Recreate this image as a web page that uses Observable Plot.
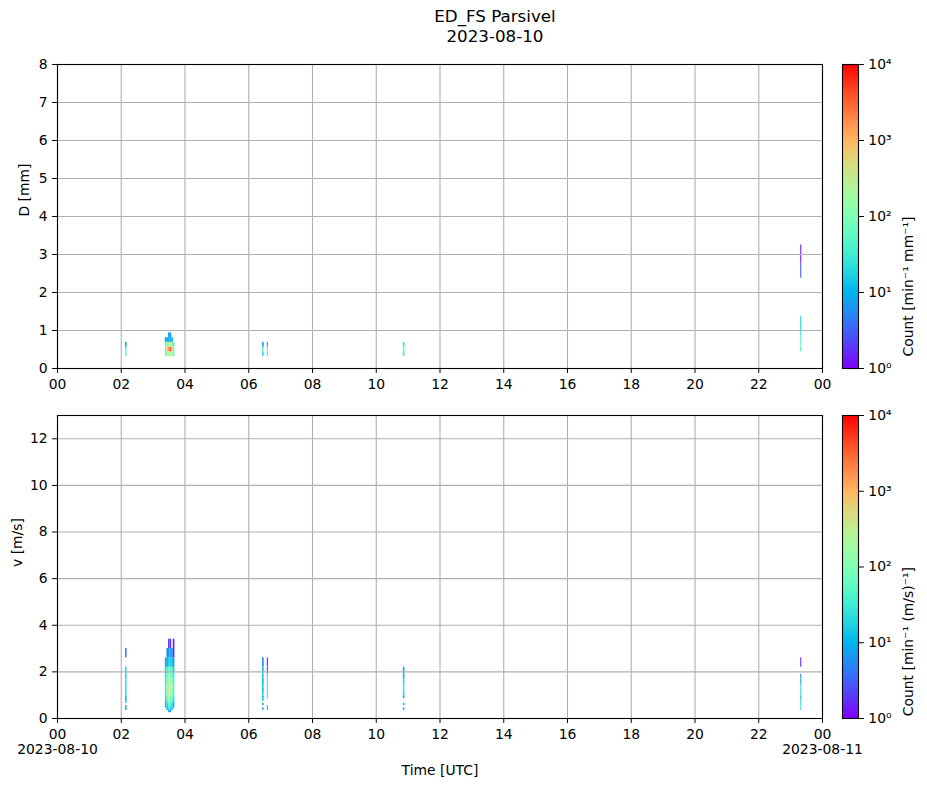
<!DOCTYPE html>
<html>
<head>
<meta charset="utf-8">
<script src="https://cdn.jsdelivr.net/npm/d3@7"></script>
<script src="https://cdn.jsdelivr.net/npm/@observablehq/plot@0.6"></script>
<style>
  body { margin: 0; background: white; }
  #wrap { position: relative; width: 927px; height: 788px; font-family: "DejaVu Sans", sans-serif; }
  #wrap > * { position: absolute; }
  #title { left: 395px; width: 200px; top: 6px; text-align: center; font-size: 16.7px; line-height: 20px; }
</style>
</head>
<body>
<div id="wrap">
  <div id="title">ED_FS Parsivel<br>2023-08-10</div>
</div>
<script>
// ---- Data ----
const timeTicks = [0, 120, 240, 360, 480, 600, 720, 840, 960, 1080, 1200, 1320, 1440];
const hourLabels = ["00","02","04","06","08","10","12","14","16","18","20","22","00"];
const dateLabels = ["2023-08-10", "2023-08-11"];
const dateLabelMinutes = [0, 1440];
const dTicks = [0,1,2,3,4,5,6,7,8];
const vTicks = [0,2,4,6,8,10,12];
const cbTicks = [1, 10, 100, 1000, 10000];
const supDigits = ["\u2070","\u00b9","\u00b2","\u00b3","\u2074"];

// Parsivel class centres (cells span centre[i] .. centre[i+1])
const dCenters = [0.062,0.187,0.312,0.437,0.562,0.687,0.812,0.937,1.062,1.187,1.375,1.625,1.875,2.125,2.375,2.75,3.25,3.75,4.25,4.75,5.5,6.5,7.5,8.5,9.5];
const vCenters = [0.05,0.15,0.25,0.35,0.45,0.55,0.65,0.75,0.85,0.95,1.1,1.3,1.5,1.7,1.9,2.2,2.6,3.0,3.4,3.8,4.4,5.2,6.0,6.8,7.6,8.8,10.4,12.0,13.6];

// time columns (minutes after 00 UTC) and their length in minutes
const colStart = [128, 203, 206, 209, 212, 215, 218, 386, 395, 651, 1399];
const colSpan  = [3,   3,   3,   3,   3,   3,   3,   3,   2,   3,   2];

// counts per diameter class
const dCounts = [
  [0,0,60,50,8],
  [0,0,60,100,40,6],
  [0,0,150,800,150,8],
  [0,0,250,1500,300,10,6],
  [0,0,250,4000,250,10,6],
  [0,0,150,800,150,8],
  [0,0,60,100,40],
  [0,0,20,50,6],
  [0,0,30,40,5],
  [0,0,30,50,20],
  [0,0,0,30,60,40,30,20,15,15,0,0,0,0,3,1.3]
];
// counts per velocity class
const vCounts = [
  [0,0,0,10,10,0,15,10,10,20,20,25,25,20,18,0,5],
  [0,0,0,0,8,10,12,15,20,25,30,30,25,20,15,6],
  [0,0,0,10,15,20,30,40,60,80,100,100,80,60,40,10,5],
  [0,0,10,20,30,50,80,120,200,250,300,300,200,120,60,15,6,2],
  [0,0,8,15,25,40,60,100,150,200,300,250,200,100,60,15,8,2],
  [0,0,0,10,15,20,30,40,60,80,100,120,100,60,40,12,5],
  [0,0,0,0,8,10,15,20,25,30,40,40,30,25,15,6,1.5,1.2],
  [0,0,0,8,0,10,0,12,10,20,12,15,10,15,12,5],
  [0,0,0,8,8,0,0,0,25,25,25,25,25,25,2,1.5],
  [0,0,0,8,0,10,0,0,10,15,25,25,20,10,10],
  [0,0,0,20,25,20,20,15,8,20,20,20,6,6,0,1.5]
];

// ---- helpers ----
function mplRainbow(t) {
  const c = v => Math.round(255 * Math.max(0, Math.min(1, v)));
  return `rgb(${c(Math.abs(2*t - 0.5))},${c(Math.sin(Math.PI*t))},${c(Math.cos(Math.PI*t/2))})`;
}
function buildCells(counts, centers) {
  const out = [];
  counts.forEach((row, i) => row.forEach((n, j) => {
    if (n > 0) out.push({t1: colStart[i], t2: colStart[i] + colSpan[i], y1: centers[j], y2: centers[j+1], count: n});
  }));
  return out;
}
const colorScale = {type: "log", domain: [1, 1e4], interpolate: mplRainbow, clamp: true};
const baseStyle = {fontFamily: "DejaVu Sans, sans-serif", fontSize: "13.9px", overflow: "visible", background: "transparent", color: "black"};
const gridStyle = {stroke: "#b0b0b0", strokeOpacity: 1, strokeWidth: 1.1};
const tk = {tickSize: 4.9, tickPadding: 4.9, label: null};

function panel({cells, yDomain, yTicks, yLabel, yLabelDx, top, height, mTop, mBottom, bottom}) {
  const marks = [
    Plot.rect(cells, {x1: "t1", x2: "t2", y1: "y1", y2: "y2", fill: "count"}),
    Plot.gridX(timeTicks, gridStyle),
    Plot.gridY(yTicks, gridStyle),
    Plot.frame({stroke: "black", strokeWidth: 1.1}),
    Plot.axisX(timeTicks, {...tk, tickPadding: 6, tickFormat: d => hourLabels[timeTicks.indexOf(d)]}),
    Plot.axisY(yTicks, {...tk}),
    Plot.text([yLabel], {frameAnchor: "left", dx: yLabelDx, rotate: -90, text: d => d})
  ];
  if (bottom) {
    marks.push(Plot.text(dateLabels, {x: (d, i) => dateLabelMinutes[i], text: d => d, frameAnchor: "bottom", dy: 35}));
    marks.push(Plot.text(["Time [UTC]"], {frameAnchor: "bottom", dy: 56, text: d => d}));
  }
  const p = Plot.plot({
    width: 830, height, marginLeft: 57, marginRight: 8, marginTop: mTop, marginBottom: mBottom,
    style: baseStyle,
    x: {domain: [0, 1440]},
    y: {domain: yDomain},
    color: colorScale,
    marks
  });
  p.style.left = "0px"; p.style.top = top + "px"; p.style.position = "absolute";
  return p;
}

function colorbar({label, top, height, mTop, mBottom}) {
  const strips = d3.range(0, 4, 0.02);
  const p = Plot.plot({
    width: 97, height, marginLeft: 12, marginRight: 69, marginTop: mTop, marginBottom: mBottom,
    style: baseStyle,
    x: {domain: [0, 1], axis: null},
    y: {type: "log", domain: [1, 1e4], axis: null},
    color: colorScale,
    marks: [
      Plot.rect(strips, {x1: 0, x2: 1, y1: e => 10 ** e, y2: e => 10 ** (e + 0.02), fill: e => 10 ** (e + 0.01), shapeRendering: "crispEdges"}),
      Plot.frame({stroke: "black", strokeWidth: 1.1}),
      Plot.axisY(cbTicks, {anchor: "right", tickSize: 4.9, tickPadding: 4.9, label: null,
        tickFormat: d => "10" + supDigits[Math.round(Math.log10(d))]}),
      Plot.text([label], {frameAnchor: "right", dx: 50, rotate: -90, text: d => d})
    ]
  });
  p.style.left = "830px"; p.style.top = top + "px"; p.style.position = "absolute";
  return p;
}

const wrap = document.getElementById("wrap");
wrap.appendChild(panel({cells: buildCells(dCounts, dCenters), yDomain: [0, 8], yTicks: dTicks, yLabel: "D [mm]", yLabelDx: -33,
  top: 0, height: 400, mTop: 64, mBottom: 32, bottom: false}));
wrap.appendChild(panel({cells: buildCells(vCounts, vCenters), yDomain: [0, 13], yTicks: vTicks, yLabel: "v [m/s]", yLabelDx: -40,
  top: 380, height: 408, mTop: 35, mBottom: 70, bottom: true}));
wrap.appendChild(colorbar({label: "Count [min\u207b\u00b9 mm\u207b\u00b9]", top: 0, height: 400, mTop: 64, mBottom: 32}));
wrap.appendChild(colorbar({label: "Count [min\u207b\u00b9 (m/s)\u207b\u00b9]", top: 380, height: 408, mTop: 35, mBottom: 70}));
</script>
</body>
</html>
